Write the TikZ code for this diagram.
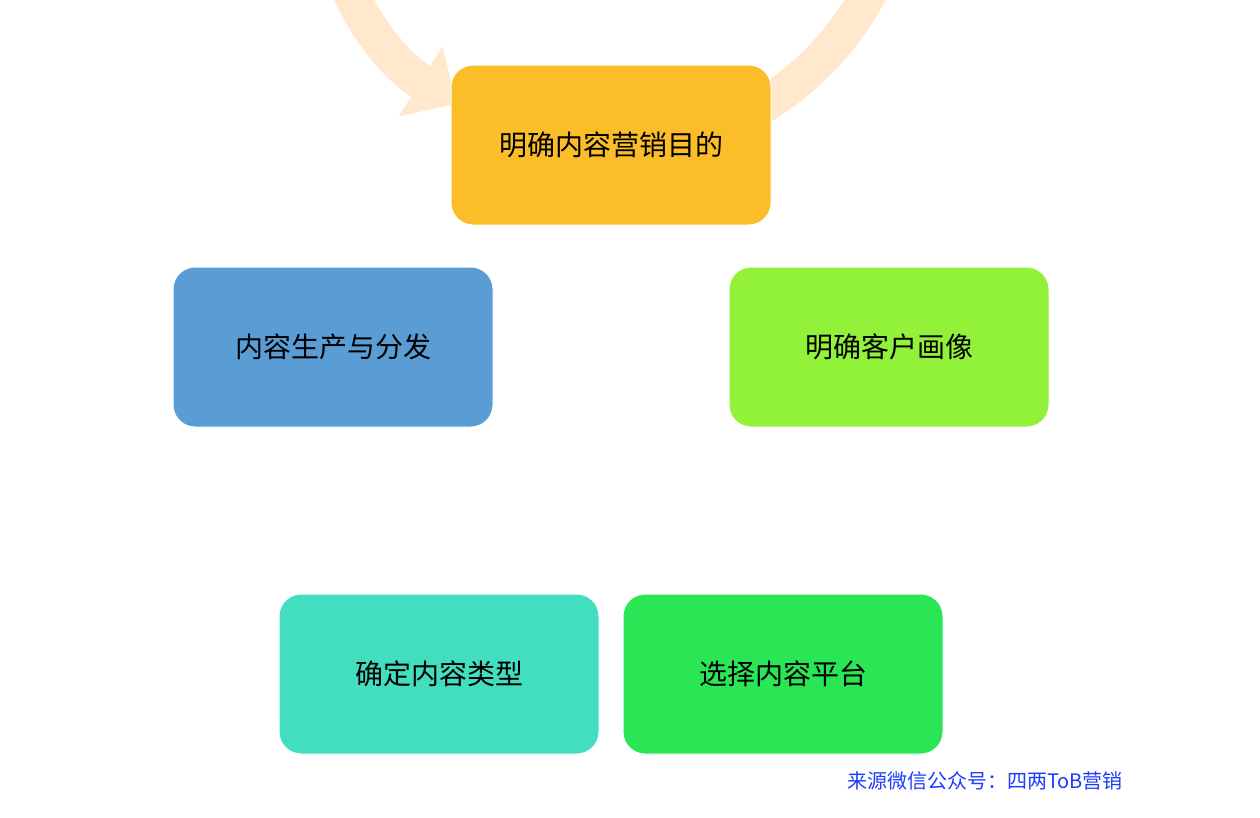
\documentclass[tikz,border=0pt]{standalone}
\usepackage{fontspec}
\newfontfamily\cjk{Noto Sans CJK SC}
\usetikzlibrary{arrows.meta}
\definecolor{ring}{RGB}{255,232,204}
\definecolor{cA}{RGB}{252,190,40}
\definecolor{cB}{RGB}{146,242,58}
\definecolor{cC}{RGB}{42,230,85}
\definecolor{cD}{RGB}{67,222,192}
\definecolor{cE}{RGB}{90,157,212}
\definecolor{src}{RGB}{30,60,255}
\tikzset{box/.style={draw=white,line width=1pt,rounded corners=22pt,minimum width=320pt,minimum height=160pt,font=\cjk\fontsize{28}{32}\selectfont,text=black}}
\begin{document}
\begin{tikzpicture}[x=1pt,y=-1pt]
\useasboundingbox[fill=white] (0,0) rectangle (1260,817);
\coordinate (c) at (611,440);
\draw[ring,line width=36pt,-{Triangle[width=80pt,length=42pt]}] (611,148) arc[start angle=90,end angle=-238,radius=292];
\node[box,fill=cA] (a) at (611,145) {明确内容营销目的};
\node[box,fill=cB] (b) at (889,347) {明确客户画像};
\node[box,fill=cC] (d) at (783,674) {选择内容平台};
\node[box,fill=cD] (e) at (439,674) {确定内容类型};
\node[box,fill=cE] (f) at (333,347) {内容生产与分发};
\node[font=\cjk\fontsize{20}{24}\selectfont,text=src] (s) at (985,781) {来源微信公众号：四两ToB营销};
\end{tikzpicture}
\end{document}
